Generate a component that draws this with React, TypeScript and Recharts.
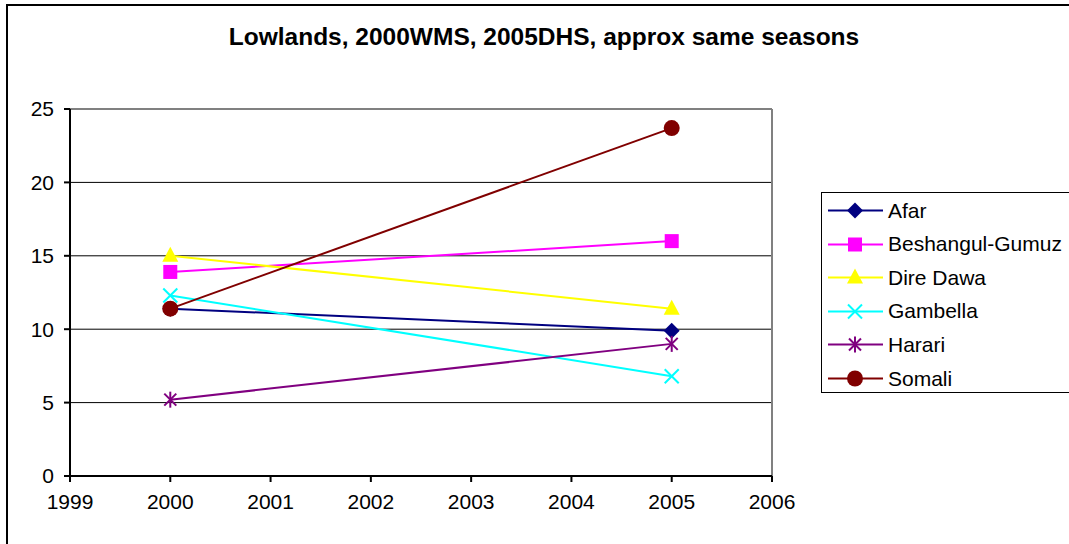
import React from "react";
import {
  LineChart,
  Line,
  XAxis,
  YAxis,
  CartesianGrid,
  ReferenceLine,
} from "recharts";

// survey years and the regional values for each
const years = [2000, 2005];
const afar = [11.4, 9.9];
const beshangul = [13.9, 16.0];
const direDawa = [15.0, 11.4];
const gambella = [12.3, 6.8];
const harari = [5.2, 9.0];
const somali = [11.4, 23.7];

const xTicks = [1999, 2000, 2001, 2002, 2003, 2004, 2005, 2006];
const yTicks = [0, 5, 10, 15, 20, 25];

type Marker = "diamond" | "square" | "triangle" | "x" | "star" | "circle";

const series: { key: string; name: string; color: string; marker: Marker; values: number[] }[] = [
  { key: "afar", name: "Afar", color: "#000080", marker: "diamond", values: afar },
  { key: "beshangul", name: "Beshangul-Gumuz", color: "#FF00FF", marker: "square", values: beshangul },
  { key: "direDawa", name: "Dire Dawa", color: "#FFFF00", marker: "triangle", values: direDawa },
  { key: "gambella", name: "Gambella", color: "#00FFFF", marker: "x", values: gambella },
  { key: "harari", name: "Harari", color: "#800080", marker: "star", values: harari },
  { key: "somali", name: "Somali", color: "#800000", marker: "circle", values: somali },
];

const data = years.map((year, i) => {
  const row: { [k: string]: number } = { year };
  series.forEach((s) => {
    row[s.key] = s.values[i];
  });
  return row;
});

const FONT = "'Liberation Sans', Arial, sans-serif";

function markerShape(kind: Marker, cx: number, cy: number, color: string, key?: string) {
  switch (kind) {
    case "diamond":
      return (
        <polygon
          key={key}
          points={`${cx},${cy - 8} ${cx + 8},${cy} ${cx},${cy + 8} ${cx - 8},${cy}`}
          fill={color}
        />
      );
    case "square":
      return <rect key={key} x={cx - 7} y={cy - 7} width={14} height={14} fill={color} />;
    case "triangle":
      return (
        <polygon
          key={key}
          points={`${cx},${cy - 9} ${cx + 8},${cy + 6} ${cx - 8},${cy + 6}`}
          fill={color}
        />
      );
    case "x":
      return (
        <g key={key} stroke={color} strokeWidth={2}>
          <line x1={cx - 7} y1={cy - 7} x2={cx + 7} y2={cy + 7} />
          <line x1={cx - 7} y1={cy + 7} x2={cx + 7} y2={cy - 7} />
        </g>
      );
    case "star":
      return (
        <g key={key} stroke={color} strokeWidth={2}>
          <line x1={cx - 6} y1={cy - 6} x2={cx + 6} y2={cy + 6} />
          <line x1={cx - 6} y1={cy + 6} x2={cx + 6} y2={cy - 6} />
          <line x1={cx} y1={cy - 8} x2={cx} y2={cy + 8} />
        </g>
      );
    default:
      return <circle key={key} cx={cx} cy={cy} r={8} fill={color} />;
  }
}

function LegendBox() {
  return (
    <div
      style={{
        position: "absolute",
        left: 821,
        top: 192,
        width: 260,
        height: 199,
        border: "1px solid #000",
        fontFamily: FONT,
        fontSize: 21,
        color: "#000",
      }}
    >
      {series.map((s, i) => (
        <div
          key={s.key}
          style={{
            position: "absolute",
            left: 0,
            top: 1 + i * 33.6,
            height: 33,
            display: "flex",
            alignItems: "center",
          }}
        >
          <svg width={66} height={33} style={{ display: "block" }}>
            <line x1={6} y1={16.5} x2={61} y2={16.5} stroke={s.color} strokeWidth={2} />
            {markerShape(s.marker, 33, 16.5, s.color)}
          </svg>
          <span style={{ whiteSpace: "nowrap" }}>{s.name}</span>
        </div>
      ))}
    </div>
  );
}

export default function App() {
  return (
    <div
      style={{
        position: "absolute",
        left: 0,
        top: 0,
        width: 1069,
        height: 544,
        background: "#fff",
        overflow: "hidden",
      }}
    >
      <div
        style={{
          position: "absolute",
          left: 6,
          top: 4,
          width: 1100,
          height: 600,
          borderLeft: "2px solid #000",
          borderTop: "2px solid #000",
        }}
      />
      <div
        style={{
          position: "absolute",
          left: 0,
          top: 23,
          width: 1088,
          textAlign: "center",
          fontFamily: FONT,
          fontWeight: "bold",
          fontSize: 24.5,
          color: "#000",
        }}
      >
        Lowlands, 2000WMS, 2005DHS, approx same seasons
      </div>
      <div style={{ position: "absolute", left: 0, top: 0 }}>
        <LineChart
          width={1069}
          height={544}
          data={data}
          margin={{ top: 109, right: 297, bottom: 28, left: 0 }}
        >
          <CartesianGrid horizontal vertical={false} stroke="#000" strokeWidth={1} />
          <XAxis
            dataKey="year"
            type="number"
            domain={[1999, 2006]}
            ticks={xTicks}
            interval={0}
            height={40}
            stroke="#000"
            strokeWidth={2}
            tickSize={6}
            tickMargin={12}
            tick={{ fill: "#000", fontSize: 21, fontFamily: FONT }}
          />
          <YAxis
            type="number"
            domain={[0, 25]}
            ticks={yTicks}
            interval={0}
            width={70}
            stroke="#000"
            strokeWidth={2}
            tickSize={6}
            tickMargin={10}
            tick={{ fill: "#000", fontSize: 21, fontFamily: FONT }}
          />
          <ReferenceLine y={25} stroke="#808080" strokeWidth={2} />
          <ReferenceLine x={2006} stroke="#808080" strokeWidth={2} />
          {series.map((s) => (
            <Line
              key={s.key}
              dataKey={s.key}
              name={s.name}
              type="linear"
              stroke={s.color}
              strokeWidth={2}
              isAnimationActive={false}
              dot={(p: any) => markerShape(s.marker, p.cx, p.cy, s.color, `${s.key}-${p.index}`)}
              activeDot={false}
            />
          ))}
        </LineChart>
      </div>
      <LegendBox />
    </div>
  );
}
